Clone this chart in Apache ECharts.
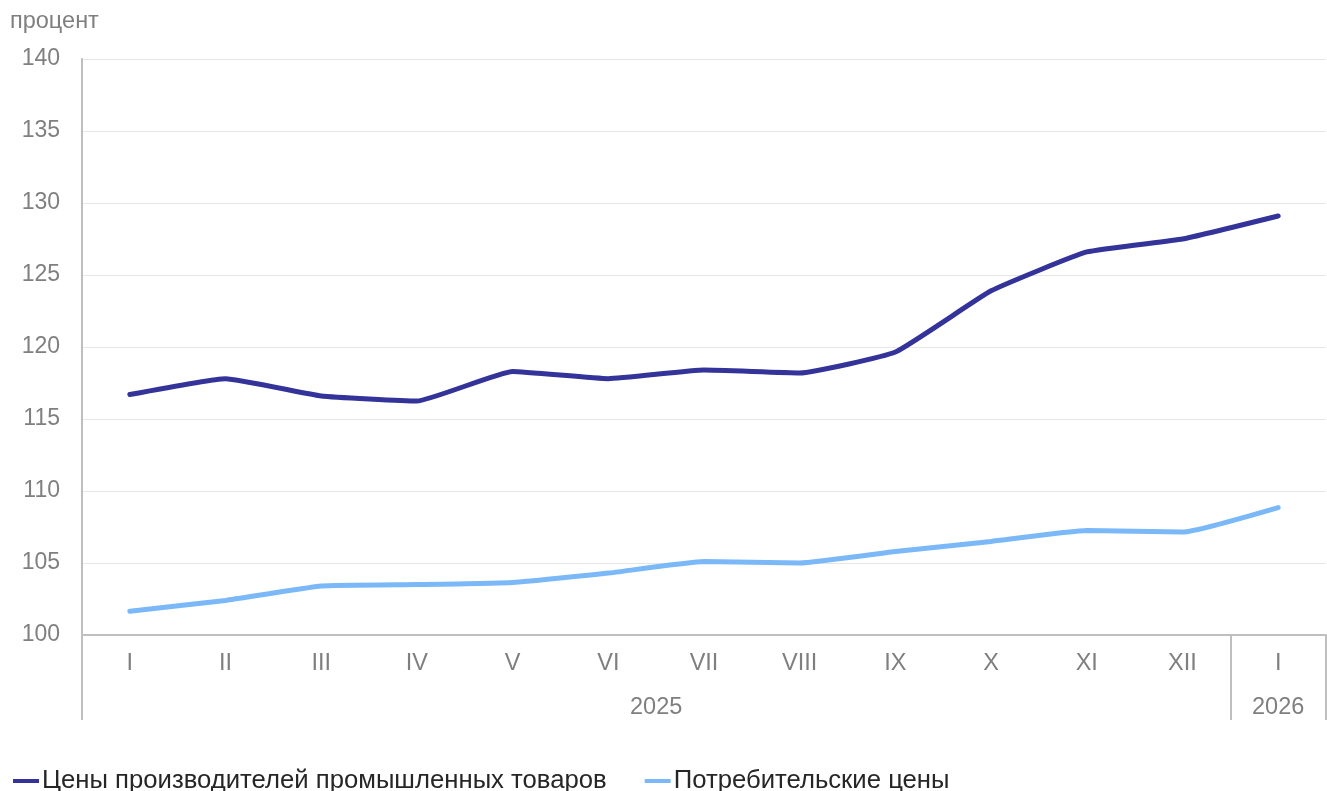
<!DOCTYPE html>
<html><head><meta charset="utf-8">
<script src="https://cdn.jsdelivr.net/npm/echarts@6/dist/echarts.min.js"></script>
<style>html,body{margin:0;padding:0;background:#fff}#c{width:1327px;height:791px}</style>
</head><body><div id="c"></div>
<script>
const categories = ['I','II','III','IV','V','VI','VII','VIII','IX','X','XI','XII','I'];
const producerPrices = [116.7,117.8,116.6,116.25,118.3,117.8,118.4,118.2,119.65,123.9,126.6,127.5,129.1];
const consumerPrices = [101.65,102.4,103.4,103.5,103.65,104.3,105.1,105.0,105.8,106.5,107.25,107.15,108.85];
const yearLabels = ['2025','2026'];
const yearCenters = [6, 12.5];
const yearBounds = [0, 12, 13];
const seriesNames = ['Цены производителей промышленных товаров','Потребительские цены'];
const unitLabel = 'процент';

const chart = echarts.init(document.getElementById('c'));
const gray = '#bfbfbf', txt = '#7f7f7f';
const ff = 'Liberation Sans, Arial, sans-serif';
chart.setOption({
  animation:false,
  textStyle:{fontFamily:ff},
  grid:{left:82,right:1,top:59,bottom:156,containLabel:false},
  legend:{left:8,top:763,itemWidth:26,itemHeight:4,itemGap:38,
    icon:'rect',
    textStyle:{fontSize:25.7,color:'#262626',padding:[0,0,0,-2]},
    data:seriesNames},
  graphic:[{type:'text',left:10,top:10,style:{text:unitLabel,fontSize:23.5,fill:txt,fontFamily:ff}}],
  xAxis:[{type:'category',data:categories,boundaryGap:true,
      axisLine:{lineStyle:{color:gray,width:2}},axisTick:{show:false},
      axisLabel:{fontSize:23.5,color:txt,margin:17}},
    {type:'value',position:'bottom',min:0,max:13,
      axisLine:{show:false},splitLine:{show:false},
      axisTick:{show:true,customValues:yearBounds,length:85,lineStyle:{color:gray,width:2}},
      axisLabel:{customValues:yearCenters,fontSize:23.5,color:txt,margin:61,
        formatter:v=>{const i=yearCenters.indexOf(v);return i>=0?yearLabels[i]:'';}}}],
  yAxis:{type:'value',min:100,max:140,interval:5,
    axisLine:{show:true,lineStyle:{color:gray,width:2}},axisTick:{show:false},
    splitLine:{lineStyle:{color:'#e6e6e6',width:1}},
    axisLabel:{fontSize:23,color:txt,margin:22}},
  series:[
    {name:seriesNames[0],type:'line',data:producerPrices,symbol:'none',smooth:0.12,
      lineStyle:{color:'#333399',width:5,cap:'round'},itemStyle:{color:'#333399'}},
    {name:seriesNames[1],type:'line',data:consumerPrices,symbol:'none',smooth:0.12,
      lineStyle:{color:'#7ab8f8',width:5,cap:'round'},itemStyle:{color:'#7ab8f8'}}
  ]
});
</script></body></html>
